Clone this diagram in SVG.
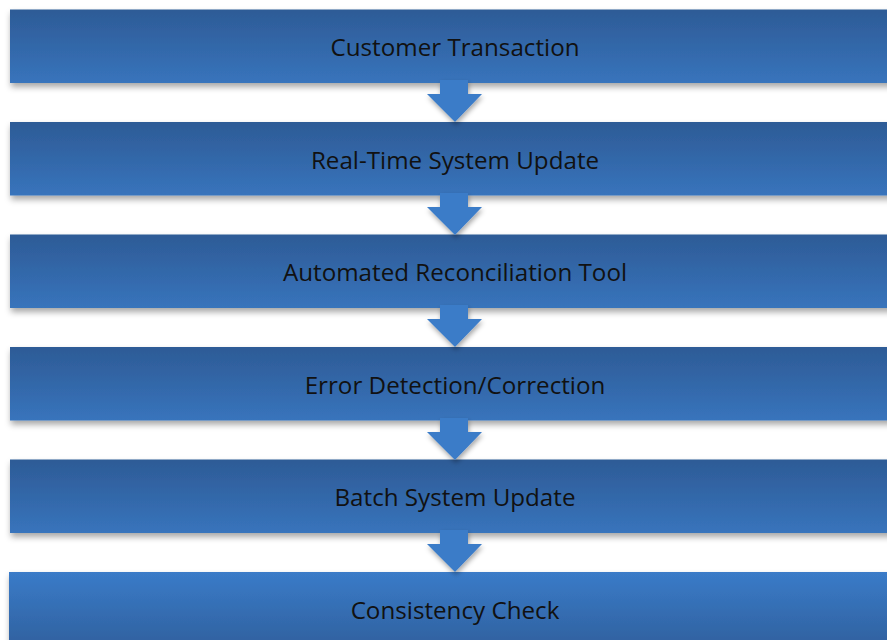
<svg xmlns="http://www.w3.org/2000/svg" width="887" height="640" viewBox="0 0 887 640">
<defs>
<linearGradient id="g" x1="0" y1="0" x2="0" y2="1">
<stop offset="0" stop-color="#2d5b96"/>
<stop offset="1" stop-color="#3874bc"/>
</linearGradient>
<linearGradient id="g2" x1="0" y1="0" x2="0" y2="1">
<stop offset="0" stop-color="#3a7bc8"/>
<stop offset="1" stop-color="#2f5f9c"/>
</linearGradient>
<filter id="sh" x="-5%" y="-20%" width="110%" height="150%">
<feDropShadow dx="1" dy="4" stdDeviation="3" flood-color="#000" flood-opacity="0.35"/>
</filter>
<filter id="ash" x="-30%" y="-30%" width="160%" height="160%">
<feDropShadow dx="1" dy="3" stdDeviation="2.5" flood-color="#000" flood-opacity="0.35"/>
</filter>
</defs>
<style>
.box{fill:url(#g);filter:url(#sh)}
.box2{fill:url(#g2);filter:url(#sh)}
.arr{fill:#3a7bc8;filter:url(#ash)}
text{font-family:"Open Sans","Liberation Sans",sans-serif;font-size:24.2px;fill:#111;text-anchor:middle;dominant-baseline:central}
</style>
<rect width="887" height="640" fill="#fff"/>
<g id="n1"><rect class="box" x="10" y="9.5" width="890" height="73.5"/><text x="455" y="46">Customer Transaction</text></g>
<g id="n2"><rect class="box" x="10" y="122" width="890" height="73.5"/><text x="455" y="159">Real-Time System Update</text></g>
<g id="n3"><rect class="box" x="10" y="234.5" width="890" height="73.5"/><text x="455" y="271">Automated Reconciliation Tool</text></g>
<g id="n4"><rect class="box" x="10" y="347" width="890" height="73.5"/><text x="455" y="384">Error Detection/Correction</text></g>
<g id="n5"><rect class="box" x="10" y="459.5" width="890" height="73.5"/><text x="455" y="496">Batch System Update</text></g>
<g id="n6"><rect class="box2" x="9" y="572" width="890" height="80"/><text x="455" y="609">Consistency Check</text></g>
<g id="connectors">
<path class="arr" d="M440,80 H468 V94 H482 L455,122 L427,94 H440 Z"/>
<path class="arr" d="M440,193 H468 V207 H482 L455,235 L427,207 H440 Z"/>
<path class="arr" d="M440,305 H468 V319 H482 L455,347 L427,319 H440 Z"/>
<path class="arr" d="M440,418 H468 V432 H482 L455,460 L427,432 H440 Z"/>
<path class="arr" d="M440,530 H468 V544 H482 L455,572 L427,544 H440 Z"/>
</g>
</svg>
